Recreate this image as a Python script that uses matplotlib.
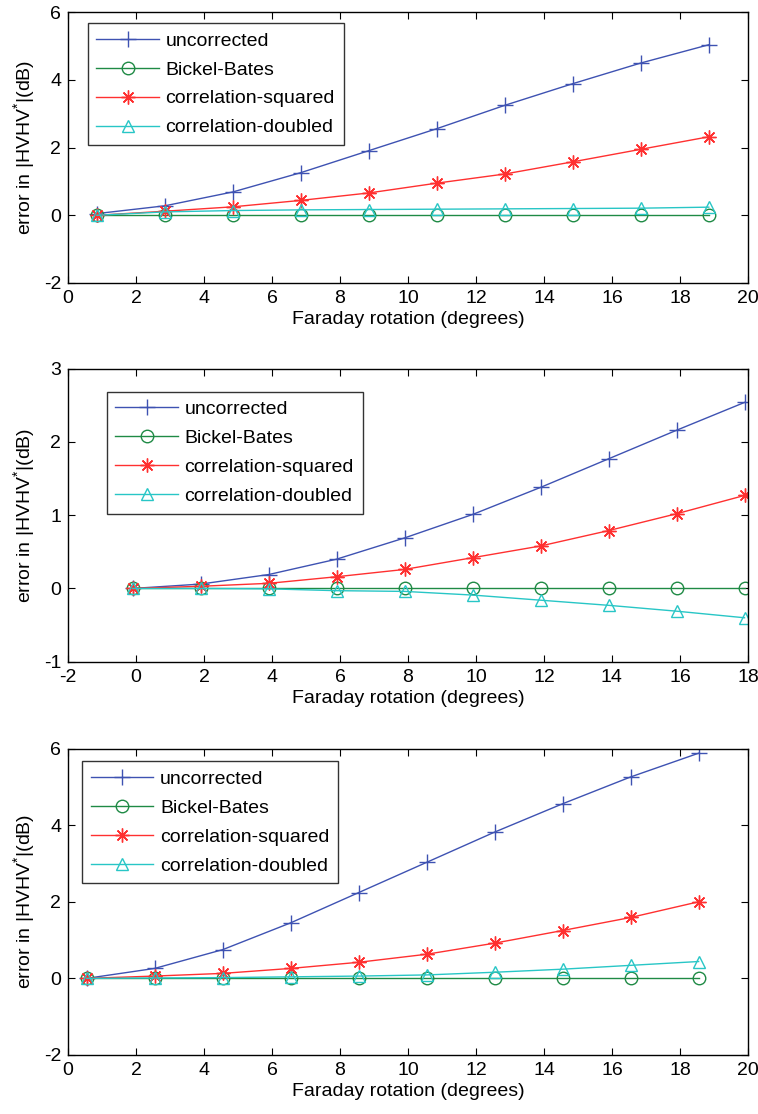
import numpy as np
import matplotlib
matplotlib.use("Agg")
import matplotlib.pyplot as plt

plt.rcParams['font.family'] = ['Liberation Sans', 'DejaVu Sans']
plt.rcParams['mathtext.fontset'] = 'custom'
plt.rcParams['mathtext.rm'] = 'Liberation Sans'
plt.rcParams['axes.unicode_minus'] = False

# ---- data ----
labels = ["uncorrected", "Bickel-Bates", "correlation-squared", "correlation-doubled"]

x1 = [0.85, 2.85, 4.85, 6.85, 8.85, 10.85, 12.85, 14.85, 16.85, 18.85]
unc1 = [0.05, 0.28, 0.69, 1.26, 1.91, 2.56, 3.25, 3.89, 4.50, 5.04]
bb1 = [0, 0, 0, 0, 0, 0, 0, 0, 0, 0]
sq1 = [0.0, 0.12, 0.25, 0.44, 0.66, 0.95, 1.22, 1.58, 1.95, 2.32]
dbl1 = [0.0, 0.10, 0.14, 0.16, 0.17, 0.18, 0.19, 0.20, 0.21, 0.24]

x2 = [-0.1, 1.9, 3.9, 5.9, 7.9, 9.9, 11.9, 13.9, 15.9, 17.9]
unc2 = [0.0, 0.06, 0.19, 0.40, 0.69, 1.01, 1.38, 1.77, 2.16, 2.54]
bb2 = [0, 0, 0, 0, 0, 0, 0, 0, 0, 0]
sq2 = [0.0, 0.03, 0.07, 0.16, 0.26, 0.42, 0.58, 0.79, 1.02, 1.27]
dbl2 = [0.0, 0.0, -0.005, -0.03, -0.04, -0.09, -0.16, -0.23, -0.31, -0.40]

x3 = [0.55, 2.55, 4.55, 6.55, 8.55, 10.55, 12.55, 14.55, 16.55, 18.55]
unc3 = [0.0, 0.26, 0.75, 1.45, 2.24, 3.03, 3.82, 4.56, 5.26, 5.88]
bb3 = [0, 0, 0, 0, 0, 0, 0, 0, 0, 0]
sq3 = [0.0, 0.06, 0.13, 0.26, 0.42, 0.63, 0.92, 1.25, 1.59, 2.00]
dbl3 = [0.0, 0.01, 0.02, 0.04, 0.06, 0.09, 0.16, 0.24, 0.34, 0.44]

colors = ["#3e52b2", "#1f8a45", "#ff3030", "#28c6c6"]
markers = ["+", "o", (8, 2, 0), "^"]
msizes = [12, 9, 10, 9]

fig = plt.figure(figsize=(7.58, 11.14), dpi=100)

panels = [
    (x1, [unc1, bb1, sq1, dbl1], (0, 20), (-2, 6), [0.0897, 0.746, 0.897, 0.243], (0.029, 0.959)),
    (x2, [unc2, bb2, sq2, dbl2], (-2, 18), (-1, 3), [0.0897, 0.406, 0.897, 0.263], (0.057, 0.921)),
    (x3, [unc3, bb3, sq3, dbl3], (0, 20), (-2, 6), [0.0897, 0.053, 0.897, 0.275], (0.021, 0.958)),
]

for xs, series, xlim, ylim, rect, legpos in panels:
    ax = fig.add_axes(rect)
    for ys, c, m, ms, lab in zip(series, colors, markers, msizes, labels):
        ax.plot(xs, ys, color=c, marker=m, markersize=ms,
                markerfacecolor="none" if m in ("o", "^") else c,
                markeredgewidth=1.0, linewidth=1.0, label=lab)
    ax.set_xlim(*xlim)
    ax.set_ylim(*ylim)
    ax.set_xticks(np.arange(xlim[0], xlim[1] + 1, 2))
    ax.set_yticks(np.arange(ylim[0], ylim[1] + 1, 1 if ylim[1] == 3 else 2))
    ax.tick_params(direction="in", top=True, right=True, length=5, labelsize=14, pad=5)
    ax.set_xlabel("Faraday rotation (degrees)", fontsize=14, labelpad=3)
    ax.set_ylabel(r"error in |HVHV$^{*}$|(dB)", fontsize=14, labelpad=4)
    for s in ax.spines.values():
        s.set_linewidth(1.0)
    leg = ax.legend(loc="upper left", bbox_to_anchor=legpos, fontsize=14,
                    frameon=True, fancybox=False, edgecolor="black",
                    handlelength=3.2, borderpad=0.45, labelspacing=0.58,
                    handletextpad=0.35, borderaxespad=0)
    leg.get_frame().set_linewidth(1.0)

fig.savefig("out.png", dpi=100)
